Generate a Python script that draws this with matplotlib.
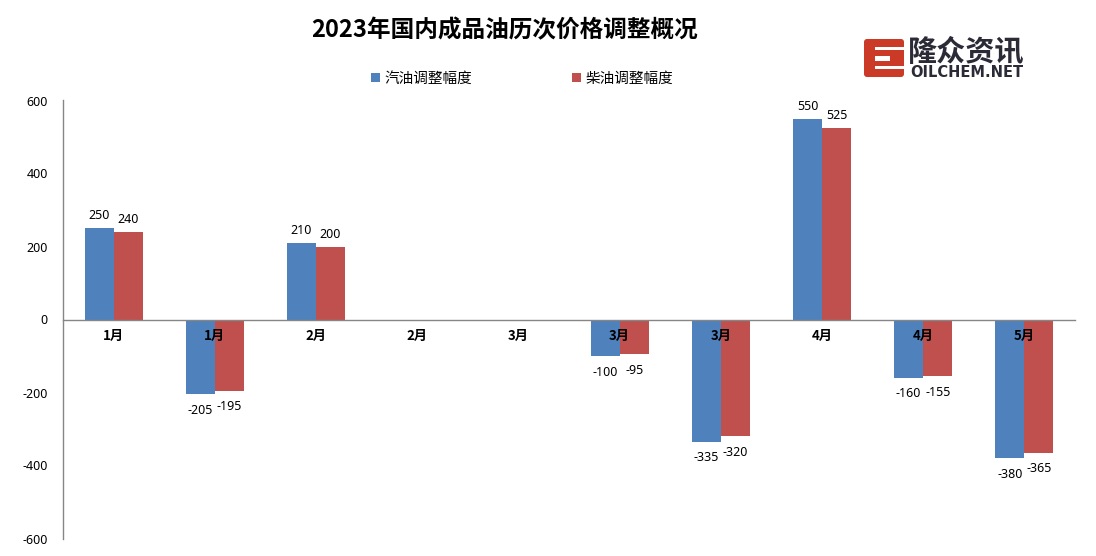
import numpy as np
import matplotlib
matplotlib.use('Agg')
import matplotlib.pyplot as plt
from matplotlib.patches import FancyBboxPatch, Rectangle

plt.rcParams['font.family'] = ['Noto Sans', 'Noto Sans CJK SC', 'DejaVu Sans']
plt.rcParams['axes.unicode_minus'] = False

months = ['1月', '1月', '2月', '2月', '3月', '3月', '3月', '4月', '4月', '5月']
gasoline = [250, -205, 210, np.nan, np.nan, -100, -335, 550, -160, -380]
diesel = [240, -195, 200, np.nan, np.nan, -95, -320, 525, -155, -365]
yticks = [-600, -400, -200, 0, 200, 400, 600]
title = '2023年国内成品油历次价格调整概况'
BLUE, RED, GREY = '#4f81bd', '#c0504d', '#868686'
CJK = ['Noto Sans CJK SC', 'DejaVu Sans']
W, H = 1096, 556

fig = plt.figure(figsize=(W/100, H/100), dpi=100, facecolor='white')
ax = fig.add_axes([63/W, 1-538.5/H, (1075-63)/W, (538.5-100.5)/H])
x = np.arange(len(months))
bw = 0.2875
b1 = ax.bar(x-bw/2, gasoline, bw, color=BLUE, label='汽油调整幅度')
b2 = ax.bar(x+bw/2, diesel, bw, color=RED, label='柴油调整幅度')
ax.set_xlim(-0.5, len(months)-0.5)
ax.set_ylim(-600, 600)
ax.set_yticks(yticks)
for s in ['top', 'right']:
    ax.spines[s].set_visible(False)
for s in ['left', 'bottom']:
    ax.spines[s].set_color(GREY)
    ax.spines[s].set_linewidth(1)
# set_position resets the ticks, so style the labels after it
ax.spines['bottom'].set_position(('data', 0))
ax.set_xticks(x, months)
ax.tick_params(axis='x', length=0, pad=7)
ax.tick_params(axis='y', length=0, pad=11, labelsize=9)
for t in ax.get_xticklabels():
    t.set_fontfamily(CJK)
    t.set_fontweight('bold')
    t.set_fontsize(9.5)

# data labels, skipped where there was no adjustment
for pos, vals in [(x-bw/2, gasoline), (x+bw/2, diesel)]:
    for px, v in zip(pos, vals):
        if np.isnan(v):
            continue
        off = 12.5*0.72 if v > 0 else -16*0.72
        ax.annotate(str(v), (px, v), xytext=(0, off), textcoords='offset points',
                    ha='center', va='center', fontsize=9, color='black')

fig.text(504.5/W, 1-30/H, title, ha='center', va='center', fontsize=17, fontweight='bold', family=CJK)
fig.legend(handles=[b1, b2], loc='center', bbox_to_anchor=(522/W, 1-79.5/H), ncol=2, frameon=False,
           fontsize=10.5, handlelength=0.6, handleheight=0.6, handletextpad=0.3, columnspacing=6.9)

# logo, drawn in pixel coordinates
lg = fig.add_axes([0, 0, 1, 1], facecolor='none')
lg.set_xlim(0, W); lg.set_ylim(H, 0); lg.axis('off')
lg.add_patch(FancyBboxPatch((866, 41), 36, 34, boxstyle='round,pad=2,rounding_size=3', fc='#cb3a26', ec='none'))
for r in [(875, 47, 30, 3), (875, 56, 15, 5), (875, 66, 30, 3)]:
    lg.add_patch(Rectangle(r[:2], r[2], r[3], fc='white', ec='none'))
lg.text(966.5, 52, '隆众资讯', ha='center', va='center', fontsize=21, fontweight='bold', color='#2b2b38', family=CJK)
lg.text(966.5, 72.5, 'OILCHEM.NET', ha='center', va='center', fontsize=10.5, fontweight='bold',
        color='#2b2b38', family='DejaVu Sans')

fig.savefig('out.png', dpi=100)
